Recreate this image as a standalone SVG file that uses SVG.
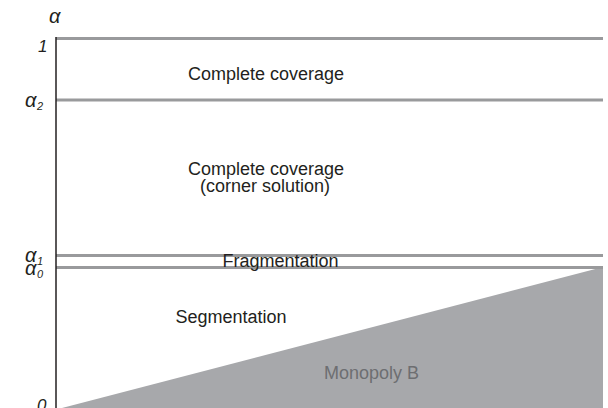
<svg xmlns="http://www.w3.org/2000/svg" width="608" height="408" viewBox="0 0 608 408">
<style>
.t{font-family:"Liberation Sans",Arial,sans-serif;font-size:18px;fill:#231f20}
.a{font-family:"Liberation Sans",Arial,sans-serif;font-size:17px;font-style:italic;fill:#231f20}
.g{font-family:"Liberation Sans",Arial,sans-serif;font-size:20px;font-style:italic;fill:#231f20}
.s{font-family:"Liberation Sans",Arial,sans-serif;font-size:11px;font-style:italic;fill:#231f20}
.h{stroke:#999a9c;stroke-width:3}
</style>
<rect width="608" height="408" fill="#fff"/>
<g id="monopoly">
<polygon points="62,408 603,267 603,408" fill="#a7a8ab"/>
<text class="t" x="371.5" y="379" text-anchor="middle" style="fill:#6d6e71">Monopoly B</text>
</g>
<g id="connectors">
<line class="h" x1="56" y1="38.5" x2="603" y2="38.5"/>
<line class="h" x1="56" y1="100" x2="603" y2="100"/>
<line class="h" x1="56" y1="255.5" x2="603" y2="255.5"/>
<line class="h" x1="56" y1="267.5" x2="603" y2="267.5"/>
<line x1="56" y1="37" x2="56" y2="408" stroke="#231f20" stroke-width="1.5"/>
</g>
<g id="labels">
<text class="g" x="49" y="23">α</text>
<text class="a" x="38" y="52">1</text>
<text class="g" x="25" y="107">α</text><text class="s" x="37" y="110">2</text>
<text class="g" x="25" y="262">α</text><text class="s" x="37" y="265">1</text>
<text class="g" x="25" y="275">α</text><text class="s" x="37" y="278">0</text>
<text class="a" x="37" y="411">0</text>
</g>
<g id="region1"><text class="t" x="266" y="80" text-anchor="middle">Complete coverage</text></g>
<g id="region2"><text class="t" x="266" y="175" text-anchor="middle">Complete coverage</text><text class="t" x="265" y="192" text-anchor="middle">(corner solution)</text></g>
<g id="region3"><text class="t" x="280.5" y="267" text-anchor="middle">Fragmentation</text></g>
<g id="region4"><text class="t" x="231" y="323" text-anchor="middle">Segmentation</text></g>
</svg>
